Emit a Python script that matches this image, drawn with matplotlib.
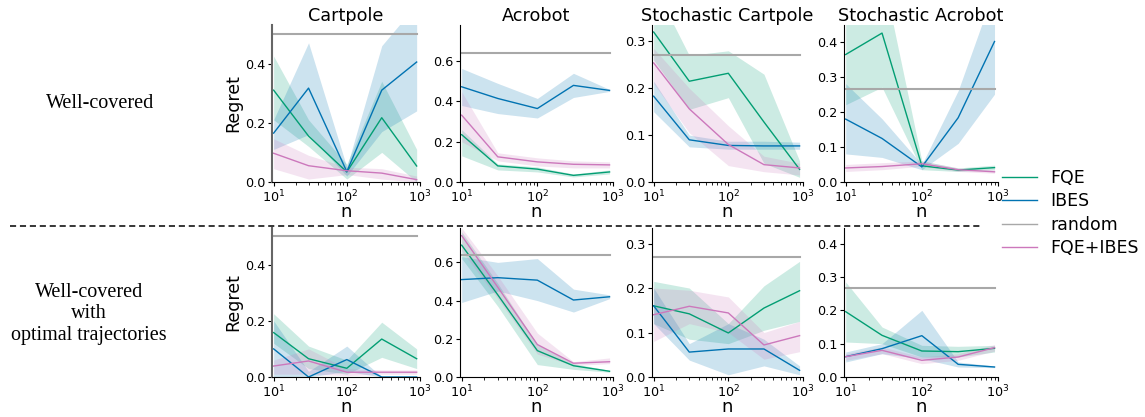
import numpy as np
import matplotlib
matplotlib.use("Agg")
from matplotlib import pyplot as plt
from matplotlib.lines import Line2D
from matplotlib.ticker import LogLocator, NullFormatter

n = [10, 30, 100, 300, 900]
envs = ["Cartpole", "Acrobot", "Stochastic Cartpole", "Stochastic Acrobot"]
random_regret = [0.5, 0.64, 0.27, 0.266]
y_top = [0.53, 0.78, 0.335, 0.447]
y_ticks = [[0.0, 0.2, 0.4], [0.0, 0.2, 0.4, 0.6], [0.0, 0.1, 0.2, 0.3], [0.0, 0.1, 0.2, 0.3, 0.4]]
row_labels = ["Well-covered", "Well-covered\nwith\noptimal trajectories"]

# well-covered (rows: Cartpole, Acrobot, Stochastic Cartpole, Stochastic Acrobot)
wc_fqe = [[0.31, 0.155, 0.034, 0.217, 0.054],
          [0.235, 0.08, 0.064, 0.033, 0.05],
          [0.32, 0.215, 0.232, 0.128, 0.027],
          [0.363, 0.424, 0.046, 0.034, 0.041]]
wc_fqe_lo = [[0.21, 0.12, 0.01, 0.10, 0.0],
             [0.13, 0.06, 0.05, 0.025, 0.04],
             [0.26, 0.155, 0.18, 0.04, 0.01],
             [0.22, 0.27, 0.035, 0.03, 0.035]]
wc_fqe_hi = [[0.425, 0.21, 0.06, 0.34, 0.11],
             [0.26, 0.09, 0.075, 0.04, 0.06],
             [0.42, 0.27, 0.28, 0.23, 0.045],
             [0.55, 0.6, 0.06, 0.04, 0.048]]

wc_ibes = [[0.165, 0.317, 0.035, 0.31, 0.405],
           [0.473, 0.415, 0.365, 0.48, 0.455],
           [0.183, 0.09, 0.078, 0.077, 0.077],
           [0.179, 0.124, 0.043, 0.183, 0.4]]
wc_ibes_lo = [[0.11, 0.16, 0.02, 0.17, 0.24],
              [0.38, 0.34, 0.318, 0.42, 0.45],
              [0.15, 0.075, 0.07, 0.07, 0.07],
              [0.08, 0.07, 0.035, 0.11, 0.25]]
wc_ibes_hi = [[0.21, 0.47, 0.05, 0.46, 0.6],
              [0.564, 0.49, 0.415, 0.54, 0.46],
              [0.215, 0.1, 0.087, 0.087, 0.085],
              [0.28, 0.18, 0.05, 0.26, 0.55]]

wc_both = [[0.097, 0.055, 0.038, 0.03, 0.008],
           [0.332, 0.125, 0.1, 0.088, 0.085],
           [0.254, 0.156, 0.08, 0.037, 0.03],
           [0.04, 0.044, 0.052, 0.035, 0.029]]
wc_both_lo = [[0.045, 0.01, 0.025, 0.01, 0.0],
              [0.2, 0.105, 0.08, 0.07, 0.07],
              [0.21, 0.105, 0.035, 0.022, 0.015],
              [0.03, 0.035, 0.045, 0.03, 0.025]]
wc_both_hi = [[0.146, 0.09, 0.05, 0.045, 0.02],
              [0.448, 0.145, 0.12, 0.105, 0.1],
              [0.285, 0.2, 0.12, 0.055, 0.04],
              [0.05, 0.055, 0.06, 0.04, 0.035]]

# well-covered with optimal trajectories
opt_fqe = [[0.158, 0.065, 0.031, 0.135, 0.065],
           [0.69, 0.43, 0.138, 0.059, 0.03],
           [0.16, 0.142, 0.099, 0.155, 0.194],
           [0.196, 0.125, 0.078, 0.076, 0.086]]
opt_fqe_lo = [[0.12, 0.03, 0.01, 0.07, 0.03],
              [0.62, 0.37, 0.065, 0.04, 0.025],
              [0.12, 0.085, 0.075, 0.105, 0.125],
              [0.105, 0.1, 0.06, 0.06, 0.075]]
opt_fqe_hi = [[0.225, 0.11, 0.06, 0.195, 0.1],
              [0.76, 0.49, 0.17, 0.07, 0.035],
              [0.215, 0.2, 0.12, 0.205, 0.26],
              [0.285, 0.15, 0.095, 0.092, 0.095]]

opt_ibes = [[0.1, 0.0, 0.062, 0.0, 0.0],
            [0.51, 0.52, 0.507, 0.403, 0.42],
            [0.16, 0.056, 0.063, 0.063, 0.015],
            [0.061, 0.085, 0.124, 0.038, 0.03]]
opt_ibes_lo = [[0.0, 0.0, 0.02, 0.0, 0.0],
               [0.39, 0.45, 0.4, 0.34, 0.41],
               [0.12, 0.038, 0.005, 0.025, 0.005],
               [0.045, 0.07, 0.055, 0.03, 0.028]]
opt_ibes_hi = [[0.2, 0.02, 0.11, 0.0, 0.0],
               [0.63, 0.6, 0.62, 0.46, 0.43],
               [0.2, 0.075, 0.12, 0.085, 0.025],
               [0.075, 0.1, 0.2, 0.045, 0.033]]

opt_both = [[0.039, 0.057, 0.017, 0.017, 0.017],
            [0.74, 0.47, 0.17, 0.072, 0.08],
            [0.14, 0.159, 0.144, 0.072, 0.093],
            [0.061, 0.08, 0.05, 0.06, 0.088]]
opt_both_lo = [[0.01, 0.01, 0.005, 0.01, 0.01],
               [0.66, 0.41, 0.12, 0.06, 0.07],
               [0.08, 0.12, 0.1, 0.04, 0.057],
               [0.05, 0.07, 0.04, 0.05, 0.078]]
opt_both_hi = [[0.06, 0.1, 0.03, 0.025, 0.025],
               [0.78, 0.53, 0.23, 0.08, 0.1],
               [0.2, 0.195, 0.18, 0.1, 0.125],
               [0.07, 0.09, 0.06, 0.07, 0.097]]

green = "#029e73"
blue = "#0173b2"
gray = "#a8a8a8"
pink = "#cc78bc"

rows = [
    [(wc_fqe, wc_fqe_lo, wc_fqe_hi, green),
     (wc_ibes, wc_ibes_lo, wc_ibes_hi, blue),
     (wc_both, wc_both_lo, wc_both_hi, pink)],
    [(opt_fqe, opt_fqe_lo, opt_fqe_hi, green),
     (opt_ibes, opt_ibes_lo, opt_ibes_hi, blue),
     (opt_both, opt_both_lo, opt_both_hi, pink)],
]

W, H = 1145, 417
fig = plt.figure(figsize=(W / 100, H / 100), dpi=100)

col_left = [272, 460, 652, 844]
col_width = [148, 153, 151, 154]
row_top = [25, 228]
row_bottom = [182, 377]

for r, series in enumerate(rows):
    for c in range(4):
        ax = fig.add_axes([col_left[c] / W, 1 - row_bottom[r] / H,
                           col_width[c] / W, (row_bottom[r] - row_top[r]) / H])
        for mean, lo, hi, color in series:
            ax.fill_between(n, lo[c], hi[c], color=color, alpha=0.2, lw=0)
            ax.plot(n, mean[c], color=color, lw=1.0)
        ax.plot([n[0], n[-1]], [random_regret[c]] * 2, color=gray, lw=1.5)
        ax.set_xscale("log")
        ax.set_xlim(9.5, 1000)
        ax.set_ylim(0, y_top[c])
        ax.set_xticks([10, 100, 1000])
        ax.xaxis.set_minor_locator(LogLocator(base=10, subs=np.arange(2, 10)))
        ax.xaxis.set_minor_formatter(NullFormatter())
        ax.set_yticks(y_ticks[c])
        ax.tick_params(labelsize=9.2, length=3, width=0.8, pad=1.5)
        ax.tick_params(which="minor", length=2, width=0.6)
        ax.spines["top"].set_visible(False)
        ax.spines["right"].set_visible(False)
        if c == 0:
            ax.spines["left"].set_color("#666666")
            ax.spines["left"].set_linewidth(1.5)
            ax.set_ylabel("Regret", fontsize=12.5, labelpad=2)
        ax.set_xlabel("n", fontsize=13, labelpad=-1)
        if r == 0:
            ax.set_title(envs[c], fontsize=12.7, pad=3)

fig.text(100 / W, 1 - 103 / H, row_labels[0], ha="center", va="center",
         family="Liberation Serif", fontsize=14.5)
fig.text(89 / W, 1 - 314 / H, row_labels[1], ha="center", va="center",
         multialignment="center", family="Liberation Serif", fontsize=14.5,
         linespacing=1.15)

fig.add_artist(Line2D([10 / W, 980 / W], [1 - 226 / H] * 2, color="black",
                      lw=1.1, linestyle=(0, (4, 2.5))))

handles = [Line2D([], [], color=green, lw=1.0),
           Line2D([], [], color=blue, lw=1.0),
           Line2D([], [], color=gray, lw=1.0),
           Line2D([], [], color=pink, lw=1.0)]
fig.legend(handles, ["FQE", "IBES", "random", "FQE+IBES"], loc="center left",
           bbox_to_anchor=(1002 / W, 1 - 213 / H), frameon=False, fontsize=12.5,
           borderpad=0, borderaxespad=0, labelspacing=0.3, handletextpad=0.8)

fig.savefig("out.png", dpi=100)
